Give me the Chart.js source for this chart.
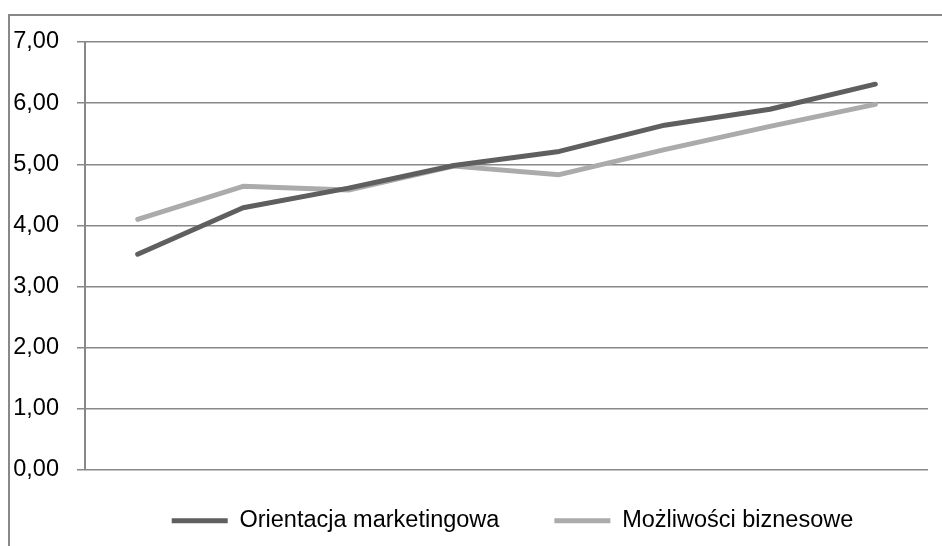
<!DOCTYPE html>
<html>
<head>
<meta charset="utf-8">
<script src="https://cdn.jsdelivr.net/npm/chart.js@4"></script>
<style>
  html, body { margin: 0; padding: 0; background: #fff; overflow: hidden; }
  #wrap { position: relative; width: 942px; height: 546px; }
  #frame {
    position: absolute; left: 8px; top: 14px; width: 960px; height: 560px;
    border-left: 2px solid #888; border-top: 2px solid #888;
  }
  #chart { position: absolute; left: 0; top: 0; }
</style>
</head>
<body>
<div id="wrap">
  <div id="frame"></div>
  <canvas id="chart" width="942" height="546"></canvas>
</div>
<script>
const categories = ["1", "2", "3", "4", "5", "6", "7", "8"];
const orientacja = [3.53, 4.29, 4.61, 4.98, 5.21, 5.64, 5.90, 6.31];
const mozliwosci = [4.10, 4.64, 4.58, 4.97, 4.83, 5.24, 5.62, 5.98];
const yTicks = [0, 1, 2, 3, 4, 5, 6, 7];

Chart.defaults.font.family = "'Liberation Sans', Arial, sans-serif";
Chart.defaults.font.size = 23.5;
Chart.defaults.color = "#000";

// nudge the legend to sit where the original has it (top only, so the clip box grows)
const legendNudge = {
  id: "legendNudge",
  afterLayout(chart) {
    const lg = chart.legend;
    lg.left += 42; lg.right += 42;
    lg.top -= 16;
  }
};

new Chart(document.getElementById("chart").getContext("2d"), {
  type: "line",
  data: {
    labels: categories,
    datasets: [
      {
        label: "Orientacja marketingowa",
        data: orientacja,
        borderColor: "#5f5f5f",
        backgroundColor: "#5f5f5f",
        borderWidth: 5,
        borderCapStyle: "round",
        borderJoinStyle: "round",
        pointRadius: 0,
        tension: 0,
      },
      {
        label: "Możliwości biznesowe",
        data: mozliwosci,
        borderColor: "#ababab",
        backgroundColor: "#ababab",
        borderWidth: 5,
        borderCapStyle: "round",
        borderJoinStyle: "round",
        pointRadius: 0,
        tension: 0,
      },
    ],
  },
  options: {
    responsive: false,
    animation: false,
    layout: { padding: { left: 13, top: 42, right: 14, bottom: 0 } },
    scales: {
      x: { display: false, offset: true },
      y: {
        min: 0,
        max: 7,
        afterBuildTicks: (scale) => {
          scale.ticks = yTicks.map((v) => ({ value: v }));
        },
        afterFit: (scale) => {
          scale.width = 72;
        },
        ticks: {
          padding: 18,
          callback: (v) => v.toFixed(2).replace(".", ","),
        },
        grid: { color: "#888", lineWidth: 1.5, tickLength: 8 },
        border: { color: "#888", width: 2 },
      },
    },
    plugins: {
      tooltip: { enabled: false },
      legend: {
        position: "bottom",
        maxHeight: 76,
        labels: {
          usePointStyle: true,
          pointStyle: "line",
          pointStyleWidth: 56,
          padding: 55,
          color: "#000",
        },
      },
    },
  },
  plugins: [legendNudge],
});
</script>
</body>
</html>
